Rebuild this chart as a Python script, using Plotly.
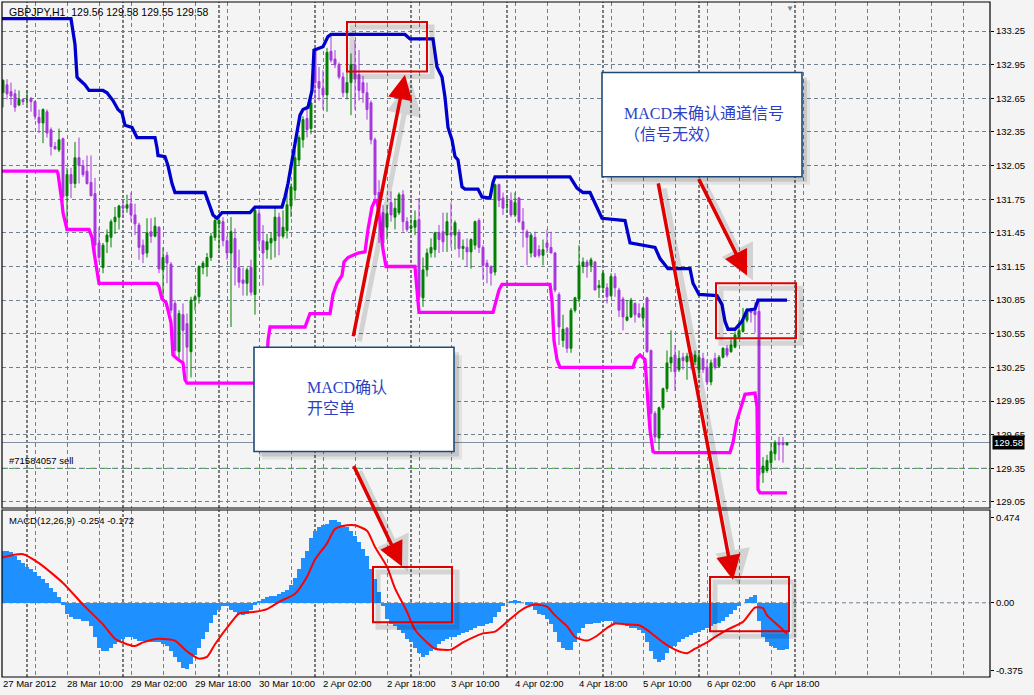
import plotly.graph_objects as go

# ---------------- data ----------------
bars = list(range(197))  # hourly bars, 0 = 27 Mar 2012 18:00

open_ = [132.70,132.77,132.71,132.69,132.59,132.64,132.64,132.65,132.62,132.48,
         132.43,132.53,132.37,132.22,132.19,132.29,131.78,131.97,131.89,132.12,
         132.05,132.00,131.90,131.80,131.36,131.14,131.37,131.41,131.55,131.59,
         131.69,131.67,131.71,131.61,131.52,131.34,131.27,131.46,131.42,131.50,
         131.12,131.25,131.17,130.82,130.39,130.72,130.64,130.39,130.85,130.88,
         131.14,131.15,131.23,131.41,131.53,131.55,131.38,131.27,131.40,131.14,
         131.03,131.00,131.14,130.90,131.62,131.38,131.30,131.36,131.38,131.59,
         131.42,131.47,131.69,131.83,132.10,132.28,132.47,132.38,133.08,132.80,
         132.74,132.68,133.07,133.00,132.95,132.84,132.70,132.79,132.95,132.86,
         132.79,132.70,132.61,132.28,131.81,131.63,131.50,131.72,131.59,131.63,
         131.79,131.55,131.49,131.50,131.57,130.87,131.12,131.27,131.30,131.45,
         131.46,131.43,131.45,131.43,131.45,131.31,131.32,131.28,131.34,131.56,
         131.32,131.18,131.15,131.10,131.88,131.76,131.70,131.74,131.61,131.76,
         131.55,131.46,131.27,131.41,131.30,131.25,131.36,131.32,131.27,130.90,
         130.49,130.60,130.42,130.76,130.86,131.15,131.19,131.16,131.19,130.96,
         130.96,130.96,130.89,131.06,130.94,130.86,130.67,130.70,130.82,130.73,
         130.69,130.87,130.40,129.84,129.62,129.89,130.06,130.29,130.36,130.23,
         130.34,130.30,130.38,130.30,130.23,130.33,130.25,130.12,130.33,130.26,
         130.34,130.42,130.39,130.43,130.52,130.57,130.67,130.77,130.75,130.75,
         129.31,129.33,129.40,129.48,129.58,129.58,129.56]
high = [132.82,132.82,132.79,132.73,132.72,132.65,132.72,132.66,132.63,132.55,
        132.56,132.55,132.39,132.26,132.38,132.30,132.03,132.03,132.26,132.30,
        132.10,132.14,132.14,131.94,131.50,131.36,131.48,131.57,131.68,131.70,
        131.73,131.79,131.81,131.71,131.54,131.39,131.58,131.58,131.59,131.51,
        131.32,131.28,131.19,130.85,130.76,130.82,130.73,130.88,130.90,131.16,
        131.20,131.27,131.45,131.59,131.60,131.59,131.42,131.59,131.49,131.30,
        131.14,131.14,131.21,131.68,131.66,131.52,131.44,131.45,131.68,131.63,
        131.65,131.88,131.89,132.19,132.32,132.49,132.58,132.72,133.10,132.93,
        132.90,133.10,133.22,133.08,132.97,132.88,133.01,133.05,133.17,133.08,
        132.85,132.79,132.63,132.30,131.92,131.70,131.70,131.82,131.76,131.81,
        131.83,131.59,131.58,131.65,131.76,131.23,131.31,131.40,131.46,131.52,
        131.63,131.63,131.72,131.56,131.48,131.39,131.40,131.40,131.56,131.58,
        131.34,131.21,131.16,131.89,131.89,131.81,131.77,131.81,131.81,131.77,
        131.67,131.48,131.45,131.46,131.34,131.39,131.48,131.46,131.28,130.92,
        130.72,130.61,130.78,130.88,131.34,131.23,131.21,131.23,131.20,131.03,
        131.10,131.00,131.09,131.09,130.96,130.88,130.85,130.87,130.83,130.82,
        130.79,130.88,130.41,129.86,129.90,130.07,130.40,130.58,130.45,130.40,
        130.38,130.38,130.39,130.40,130.40,130.38,130.32,130.32,130.38,130.36,
        130.43,130.45,130.52,130.57,130.67,130.78,130.78,130.78,130.83,130.85,
        129.45,129.47,129.58,129.60,129.63,129.63,129.58]
low = [132.57,132.64,132.59,132.53,132.58,132.59,132.59,132.53,132.46,132.34,
       132.25,132.30,132.14,132.19,132.17,131.73,131.48,131.76,131.85,131.89,
       131.95,131.88,131.78,131.23,131.19,131.09,131.27,131.32,131.44,131.48,
       131.59,131.63,131.55,131.43,131.21,131.18,131.23,131.36,131.41,131.09,
       130.88,131.00,130.73,130.36,130.32,130.30,130.14,130.16,130.76,130.82,
       131.08,131.06,131.20,131.38,131.30,131.33,131.21,130.61,130.98,130.96,
       130.89,130.89,130.89,130.72,131.30,130.98,131.22,131.21,131.23,131.25,
       131.40,131.40,131.59,131.74,132.05,132.21,132.30,132.33,132.62,132.63,
       132.55,132.53,132.97,132.92,132.82,132.66,132.64,132.50,132.55,132.63,
       132.61,132.46,132.24,131.74,131.36,131.29,131.39,131.55,131.48,131.61,
       131.46,131.46,131.45,131.43,130.87,130.79,131.06,131.23,131.23,131.27,
       131.28,131.28,131.32,131.30,131.23,131.21,131.15,131.13,131.30,131.27,
       131.03,131.00,130.98,131.07,131.68,131.61,131.63,131.59,131.59,131.54,
       131.32,131.16,131.23,131.23,131.23,131.16,131.27,131.27,130.92,130.45,
       130.43,130.38,130.38,130.74,130.83,131.09,131.05,131.10,130.94,130.87,
       130.92,130.82,130.88,130.88,130.70,130.58,130.66,130.69,130.65,130.69,
       130.61,130.38,129.63,129.58,129.51,129.87,130.03,130.21,130.04,130.21,
       130.23,130.14,130.23,130.27,130.17,130.20,130.09,130.09,130.23,130.25,
       130.33,130.34,130.38,130.42,130.51,130.56,130.65,130.65,130.56,129.22,
       129.22,129.31,129.33,129.42,129.42,129.40,129.55]
close = [132.81,132.69,132.67,132.57,132.64,132.62,132.64,132.62,132.49,132.43,
         132.55,132.34,132.22,132.20,132.28,131.77,131.97,131.89,132.12,132.05,
         131.97,131.89,131.78,131.34,131.23,131.34,131.43,131.55,131.59,131.69,
         131.67,131.70,131.61,131.53,131.32,131.26,131.45,131.42,131.51,131.13,
         131.23,131.18,130.76,130.40,130.73,130.58,130.43,130.85,130.88,131.15,
         131.18,131.23,131.42,131.56,131.56,131.38,131.27,131.46,131.14,131.01,
         131.00,131.12,130.92,131.65,131.38,131.27,131.37,131.40,131.59,131.42,
         131.50,131.70,131.86,132.12,132.30,132.46,132.37,132.61,132.79,132.74,
         132.68,133.06,132.99,132.95,132.84,132.70,132.79,132.95,132.82,132.72,
         132.70,132.55,132.28,131.79,131.63,131.36,131.62,131.61,131.67,131.79,
         131.55,131.48,131.51,131.56,130.88,131.12,131.27,131.32,131.45,131.39,
         131.37,131.55,131.43,131.54,131.31,131.33,131.28,131.39,131.55,131.32,
         131.16,131.15,131.09,131.88,131.74,131.67,131.70,131.61,131.72,131.55,
         131.48,131.41,131.43,131.24,131.25,131.30,131.32,131.27,130.94,130.61,
         130.59,130.42,130.76,130.87,131.16,131.19,131.15,131.21,130.94,130.98,
         131.09,130.88,131.06,130.96,130.76,130.70,130.70,130.85,130.72,130.70,
         130.78,130.39,129.84,129.63,129.89,130.06,130.29,130.34,130.21,130.33,
         130.31,130.35,130.30,130.36,130.34,130.23,130.12,130.29,130.25,130.34,
         130.42,130.36,130.45,130.54,130.58,130.67,130.76,130.74,130.72,129.29,
         129.37,129.42,129.50,129.58,129.56,129.56,129.58]

# upper channel (blue) and lower channel (magenta): bar index / price
blue_bar = [-0.5,17,18,18.5,19,20.5,21.5,25,26,27.5,28.75,29.75,30.5,32.25,33.5,38,38.5,38.75,40.5,41.25,
            42.25,43,50.5,51.25,52.5,53.5,54.75,61.75,63,69.75,70.5,71.25,72.5,73.5,74.25,75,76.25,77.25,
            77.75,78.5,80,81.25,82,100.5,101.75,107.5,108.5,109.75,110.5,111.25,112.25,113,113.75,114.75,
            115.5,118.75,119.75,121.75,122.5,123,141.75,143.5,145,146.75,148.5,149.75,155.5,156.75,163,
            164.25,166.25,171.75,172.5,174,178.5,179.75,180.5,181.25,183,184.75,186,188,188.75,196]
blue_val = [133.36,133.36,133.13,132.84,132.82,132.77,132.72,132.72,132.70,132.63,132.55,132.52,132.41,132.39,
            132.30,132.30,132.21,132.14,132.13,132.05,131.89,131.81,131.81,131.74,131.61,131.58,131.63,131.63,
            131.68,131.68,131.77,131.89,132.13,132.34,132.50,132.55,132.57,132.72,133.08,133.09,133.11,133.20,
            133.22,133.22,133.18,133.18,132.93,132.84,132.66,132.39,132.28,132.13,132.10,131.86,131.84,131.84,
            131.77,131.76,131.90,131.95,131.95,131.85,131.81,131.81,131.68,131.58,131.56,131.36,131.32,131.22,
            131.13,131.13,131.00,130.90,130.89,130.81,130.66,130.59,130.59,130.66,130.76,130.77,130.85,130.85]
mag_bar = [-0.5,13.5,13.75,14.25,14.75,15,15.75,16,21.5,22.25,22.75,23.5,24,38.5,39,39.75,40.75,41.25,42,42.5,
           43.75,45,45.5,46,65.75,66.25,66.75,75.5,76.25,76.75,81.75,82.5,83.5,84.75,85.25,86.25,88.75,90.5,
           91.25,92.25,93,93.5,94.25,95,95.75,103,103.5,104,122.5,123.25,124,124.75,136.75,137.25,137.75,
           138.5,139.25,157.5,158.25,159.25,160.5,161.25,161.75,162.5,163,181.75,182.5,183.5,184.75,185.5,
           188,188.5,188.75,189.25,196]
mag_val = [132.00,132.00,131.98,131.86,131.72,131.63,131.50,131.48,131.48,131.41,131.28,131.09,131.00,131.00,
           130.97,130.86,130.83,130.76,130.65,130.36,130.32,130.29,130.14,130.11,130.11,130.49,130.61,130.61,
           130.69,130.73,130.73,130.90,131.00,131.07,131.19,131.23,131.27,131.28,131.48,131.68,131.74,131.74,
           131.56,131.30,131.15,131.15,130.94,130.74,130.74,130.85,130.94,130.99,130.99,130.85,130.49,130.32,
           130.25,130.25,130.33,130.36,130.32,129.93,129.69,129.50,129.49,129.49,129.58,129.78,129.93,130.01,
           130.02,129.90,129.16,129.13,129.13]

macd_hist = [0.29,0.29,0.28,0.26,0.24,0.22,0.20,0.19,0.17,0.15,
             0.13,0.11,0.08,0.06,0.03,-0.01,-0.06,-0.08,-0.09,-0.09,
             -0.10,-0.10,-0.13,-0.19,-0.25,-0.27,-0.27,-0.25,-0.23,-0.22,
             -0.20,-0.19,-0.19,-0.20,-0.21,-0.21,-0.21,-0.22,-0.22,-0.22,
             -0.23,-0.24,-0.27,-0.30,-0.33,-0.36,-0.37,-0.34,-0.29,-0.25,
             -0.20,-0.16,-0.11,-0.07,-0.04,-0.02,-0.02,-0.04,-0.05,-0.06,
             -0.07,-0.06,-0.04,-0.01,0.01,0.02,0.03,0.04,0.04,0.05,
             0.06,0.07,0.10,0.14,0.19,0.25,0.29,0.36,0.40,0.42,
             0.43,0.44,0.46,0.46,0.45,0.43,0.42,0.40,0.37,0.34,
             0.30,0.26,0.19,0.13,0.06,-0.02,-0.09,-0.12,-0.13,-0.15,
             -0.17,-0.20,-0.22,-0.25,-0.28,-0.30,-0.29,-0.27,-0.25,-0.23,
             -0.21,-0.20,-0.19,-0.19,-0.18,-0.17,-0.16,-0.15,-0.14,-0.13,
             -0.13,-0.12,-0.11,-0.08,-0.05,-0.02,0.00,0.01,0.015,0.01,
             0.00,-0.01,-0.01,-0.04,-0.06,-0.07,-0.09,-0.12,-0.16,-0.22,
             -0.25,-0.26,-0.26,-0.22,-0.17,-0.14,-0.12,-0.12,-0.11,-0.11,
             -0.10,-0.10,-0.10,-0.11,-0.11,-0.11,-0.13,-0.14,-0.14,-0.15,
             -0.17,-0.22,-0.27,-0.31,-0.33,-0.32,-0.28,-0.25,-0.24,-0.22,
             -0.20,-0.19,-0.18,-0.17,-0.16,-0.15,-0.14,-0.13,-0.12,-0.11,
             -0.10,-0.08,-0.06,-0.04,-0.02,0.00,0.02,0.03,0.045,-0.10,
             -0.19,-0.22,-0.24,-0.25,-0.26,-0.26,-0.254]
sig_bar = [-0.5,5,9,15,20,25,28,31,33,35,39,43,46,49,51,53,57,59,63,66,69,73,76,78,81,83,86,88,91,93,96,98,
           101,103,106,108,112,115,120,123,126,129,131,133,136,138,141,143,146,148,151,153,156,159,161,165,
           168,171,173,176,178,181,185,187,188,190,191,194,196]
sig_val = [0.25,0.27,0.22,0.11,-0.01,-0.12,-0.20,-0.23,-0.24,-0.22,-0.20,-0.21,-0.27,-0.31,-0.30,-0.23,-0.11,
           -0.06,-0.05,-0.035,0.005,0.05,0.145,0.24,0.33,0.41,0.43,0.43,0.40,0.31,0.20,0.08,-0.05,-0.15,-0.22,
           -0.255,-0.26,-0.22,-0.17,-0.16,-0.106,-0.05,-0.022,-0.009,-0.022,-0.07,-0.13,-0.19,-0.21,-0.19,-0.14,
           -0.115,-0.12,-0.125,-0.15,-0.22,-0.26,-0.28,-0.255,-0.22,-0.19,-0.15,-0.106,-0.05,-0.026,-0.03,-0.07,
           -0.13,-0.172]

label_bars = list(range(0, 193, 16))
label_text = ["27 Mar 2012", "28 Mar 10:00", "29 Mar 02:00", "29 Mar 18:00", "30 Mar 10:00",
              "2 Apr 02:00", "2 Apr 18:00", "3 Apr 10:00", "4 Apr 02:00", "4 Apr 18:00",
              "5 Apr 10:00", "6 Apr 02:00", "6 Apr 18:00"]
price_ticks = [round(129.05 + 0.30 * k, 2) for k in range(15)]
macd_ticks = [0.474, 0.0, -0.375]
macd_ticktext = ["0.474", "0.00", "-0.375"]
day_starts = [6, 30, 54, 78, 102, 126, 150, 174, 198]
bid_price = 129.58
order_price = 129.35

assert len(open_) == len(high) == len(low) == len(close) == len(macd_hist) == 197
assert len(blue_bar) == len(blue_val) and len(mag_bar) == len(mag_val) and len(sig_bar) == len(sig_val)

# ---------------- layout constants ----------------
W, H = 1034, 695
M_L, M_R, M_T, M_B = 2, 44, 2, 18
X_RANGE = [-0.25, 246.75]
Y_RANGE = [128.996, 133.509]
Y2_RANGE = [-0.412, 0.515]
MAIN_DOM = [0.2504, 1.0]
MACD_DOM = [0.0, 0.2474]
plot_h = H - M_T - M_B
px_x = (W - M_L - M_R) / (X_RANGE[1] - X_RANGE[0])
px_y = plot_h * (MAIN_DOM[1] - MAIN_DOM[0]) / (Y_RANGE[1] - Y_RANGE[0])
px_y2 = plot_h * (MACD_DOM[1] - MACD_DOM[0]) / (Y2_RANGE[1] - Y2_RANGE[0])

GRID = "#708090"
FONT = "Liberation Sans"
RED = "#E00000"

fig = go.Figure()
fig.add_trace(go.Candlestick(
    x=bars, open=open_, high=high, low=low, close=close, xaxis="x", yaxis="y",
    increasing=dict(line=dict(color="#008000", width=1), fillcolor="#008000"),
    decreasing=dict(line=dict(color="#A836DE", width=1), fillcolor="#A836DE"),
    whiskerwidth=0, hoverinfo="skip", showlegend=False))
fig.add_trace(go.Scatter(x=mag_bar, y=mag_val, mode="lines", xaxis="x", yaxis="y",
                         line=dict(color="#FF00FF", width=3.3), hoverinfo="skip"))
fig.add_trace(go.Scatter(x=blue_bar, y=blue_val, mode="lines", xaxis="x", yaxis="y",
                         line=dict(color="#0000CD", width=3.3), hoverinfo="skip"))
fig.add_trace(go.Bar(x=bars, y=macd_hist, width=1.0, xaxis="x", yaxis="y2",
                     marker=dict(color="#1E90FF", line=dict(width=0)), hoverinfo="skip"))
fig.add_trace(go.Scatter(x=sig_bar, y=sig_val, mode="lines", xaxis="x", yaxis="y2",
                         line=dict(color="#FF0000", width=2, shape="spline", smoothing=0.6),
                         hoverinfo="skip"))

shapes = []
# day separators
for d in day_starts:
    for yr in ("y domain", "y2 domain"):
        shapes.append(dict(type="line", xref="x", yref=yr, x0=d, x1=d, y0=0, y1=1, layer="below",
                           line=dict(color="black", width=1, dash="3px,2px")))
# macd zero grid
shapes.append(dict(type="line", xref="x domain", yref="y2", x0=0, x1=1, y0=0, y1=0, layer="below",
                   line=dict(color=GRID, width=1, dash="4px,3px")))
# bid line and order line
shapes.append(dict(type="line", xref="x domain", yref="y", x0=0, x1=1, y0=bid_price, y1=bid_price,
                   layer="below", line=dict(color="#8090A0", width=1)))
shapes.append(dict(type="line", xref="x domain", yref="y", x0=0, x1=1, y0=order_price, y1=order_price,
                   layer="below", line=dict(color="#22B022", width=1, dash="6px,5px")))
# panel frames
for yr in ("y domain", "y2 domain"):
    shapes.append(dict(type="rect", xref="x domain", yref=yr, x0=0, x1=1, y0=0, y1=1,
                       line=dict(color="black", width=1.2), fillcolor="rgba(0,0,0,0)", layer="above"))


def shadow_rect(x0, x1, y0, y1, yref, dpx, fill=None, line=None):
    s = px_y if yref == "y" else px_y2
    d = dict(type="rect", xref="x", yref=yref, x0=x0 + dpx / px_x, x1=x1 + dpx / px_x,
             y0=y0 - dpx / s, y1=y1 - dpx / s, layer="above")
    if fill:
        d["fillcolor"] = fill
        d["line"] = dict(width=0)
    else:
        d["fillcolor"] = "rgba(0,0,0,0)"
        d["line"] = line
    return d


# text boxes (bar index / price)
text_boxes = [(62.75, 112.75, 129.50, 130.43), (149.75, 199.75, 131.95, 132.88)]
for (x0, x1, y0, y1) in text_boxes:
    shapes.append(shadow_rect(x0, x1, y0, y1, "y", 8, fill="rgba(0,0,0,0.07)"))
    shapes.append(shadow_rect(x0, x1, y0, y1, "y", 5, fill="rgba(0,0,0,0.12)"))
    shapes.append(dict(type="rect", xref="x", yref="y", x0=x0, x1=x1, y0=y0, y1=y1, layer="above",
                       fillcolor="white", line=dict(color="#1F4A78", width=1.6)))

# red highlight rectangles
red_boxes = [(86, 106, 132.89, 133.33, "y"), (178.25, 198.25, 130.51, 131.00, "y"),
             (92.5, 112.25, -0.108, 0.199, "y2"), (176.75, 196.5, -0.158, 0.143, "y2")]
for (x0, x1, y0, y1, yr) in red_boxes:
    shapes.append(shadow_rect(x0, x1, y0, y1, yr, 5,
                              line=dict(color="rgba(0,0,0,0.13)", width=5)))
    shapes.append(dict(type="rect", xref="x", yref=yr, x0=x0, x1=x1, y0=y0, y1=y1, layer="above",
                       fillcolor="rgba(0,0,0,0)", line=dict(color=RED, width=2)))

annotations = []
# arrows: head (bar, value, axis) and tail offset in px
arrows = [(100.5, 132.86, "y", -52, 263), (99.75, 0.201, "y2", -49, -102),
          (186.0, 131.07, "y", -49, -98), (182.5, 0.127, "y2", -75, -398)]
for (hx, hy, yr, ax, ay) in arrows:
    annotations.append(dict(x=hx, y=hy, xref="x", yref=yr, ax=ax, ay=ay, text="", showarrow=True,
                            arrowhead=2, arrowsize=1.4, arrowwidth=5, arrowcolor="rgba(0,0,0,0.13)",
                            xshift=6, yshift=-5, standoff=0))
for (hx, hy, yr, ax, ay) in arrows:
    annotations.append(dict(x=hx, y=hy, xref="x", yref=yr, ax=ax, ay=ay, text="", showarrow=True,
                            arrowhead=2, arrowsize=1.4, arrowwidth=3.5, arrowcolor=RED, standoff=0))

TXT_FONT = dict(family="Liberation Serif, Noto Sans CJK SC", size=16, color="#2E3FC4")
annotations.append(dict(x=75.5, y=129.98, xref="x", yref="y", text="MACD确认<br>开空单",
                        showarrow=False, xanchor="left", yanchor="middle", align="left", font=TXT_FONT))
annotations.append(dict(x=154.75, y=132.42, xref="x", yref="y", text="MACD未确认通道信号<br>（信号无效）",
                        showarrow=False, xanchor="left", yanchor="middle", align="left", font=TXT_FONT))

SMALL = dict(family=FONT, size=9.5, color="black")
annotations.append(dict(x=0, y=1, xref="paper", yref="paper", xanchor="left", yanchor="top",
                        xshift=5, yshift=-2, showarrow=False,
                        font=dict(family=FONT, size=10.5, color="black"),
                        text="GBPJPY,H1  %.2f %.2f %.2f %.2f" % (open_[-1], high[-1], low[-1], close[-1])))
annotations.append(dict(x=0, y=1, xref="paper", yref="y2 domain", xanchor="left", yanchor="top",
                        xshift=5, yshift=-3, showarrow=False, font=SMALL,
                        text="MACD(12,26,9) %.3f %.3f" % (macd_hist[-1], sig_val[-1])))
annotations.append(dict(x=0, y=order_price, xref="paper", yref="y", xanchor="left", yanchor="bottom",
                        xshift=5, yshift=0, showarrow=False, font=SMALL, text="#71584057 sell"))
annotations.append(dict(x=1, y=bid_price, xref="paper", yref="y", xanchor="left", yanchor="middle",
                        xshift=2, showarrow=False, bgcolor="black", borderpad=1,
                        font=dict(family=FONT, size=9.5, color="white"), text="%.2f" % bid_price))
annotations.append(dict(x=196.75, y=1, xref="x", yref="paper", xanchor="center", yanchor="top",
                        showarrow=False, text="▼", font=dict(size=8, color=GRID)))

fig.update_layout(
    width=W, height=H, margin=dict(l=M_L, r=M_R, t=M_T, b=M_B),
    paper_bgcolor="#F4F4F4", plot_bgcolor="#F4F4F4", showlegend=False,
    bargap=0, font=dict(family=FONT, size=9.5, color="black"),
    xaxis=dict(domain=[0, 1], anchor="y2", range=X_RANGE, rangeslider=dict(visible=False),
               tickmode="array", tickvals=label_bars, ticktext=label_text,
               ticklabelposition="outside right", ticks="", ticklen=0, ticklabelstandoff=-1,
               showline=False, zeroline=False,
               showgrid=True, gridcolor=GRID, gridwidth=1, griddash="4px,3px",
               minor=dict(tickmode="linear", tick0=0, dtick=8, showgrid=True, gridcolor=GRID,
                          gridwidth=1, griddash="4px,3px", ticks=""),
               tickfont=SMALL),
    yaxis=dict(domain=MAIN_DOM, anchor="x", side="right", range=Y_RANGE,
               tickmode="array", tickvals=price_ticks, ticktext=["%.2f" % v for v in price_ticks],
               ticks="outside", ticklen=3, tickcolor="black", showgrid=True, gridcolor=GRID,
               griddash="4px,3px", gridwidth=1, zeroline=False, showline=False, tickfont=SMALL),
    yaxis2=dict(domain=MACD_DOM, anchor="x", side="right", range=Y2_RANGE,
                tickmode="array", tickvals=macd_ticks, ticktext=macd_ticktext,
                ticks="outside", ticklen=3, tickcolor="black", showgrid=False, zeroline=False,
                showline=False, tickfont=SMALL),
    shapes=shapes, annotations=annotations,
)

fig.write_html("out.html", config={"displayModeBar": False},
               post_script="document.body.style.margin='0';document.body.style.background='#F4F4F4';")
